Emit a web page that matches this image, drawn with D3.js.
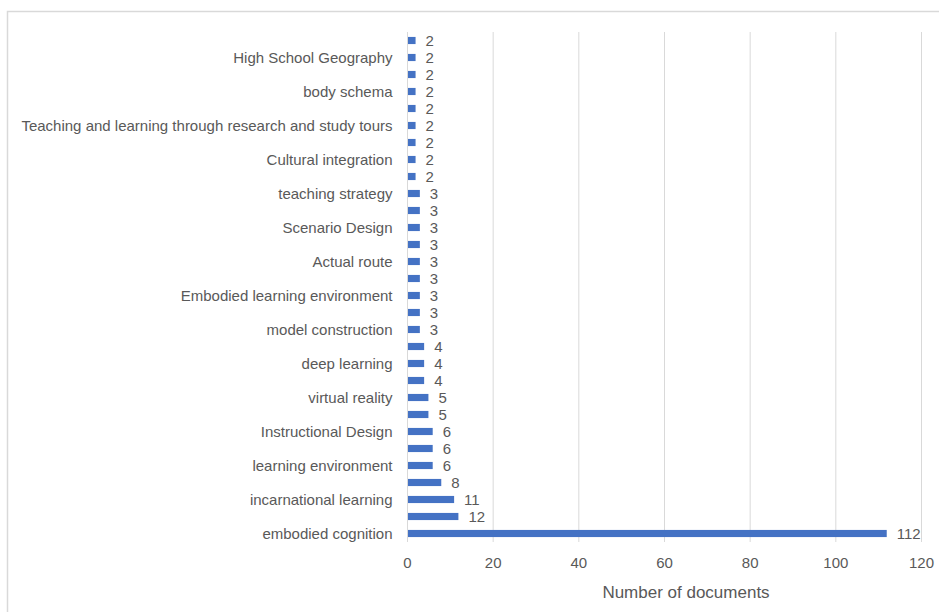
<!DOCTYPE html>
<html lang="en">
<head>
<meta charset="utf-8">
<title>Number of documents</title>
<script src="https://cdn.jsdelivr.net/npm/d3@7"></script>
<style>
  body { margin: 0; background: #fff; }
  text { font-family: "Liberation Sans", Arial, sans-serif; fill: #595959; }
</style>
</head>
<body>
<div id="chart"></div>
<script>

// Data (bottom category first, as Excel draws it). Empty names = labels Excel skipped.
var categories = [
  "embodied cognition", "", "incarnational learning", "", "learning environment", "",
  "Instructional Design", "", "virtual reality", "", "deep learning", "",
  "model construction", "", "Embodied learning environment", "", "Actual route", "",
  "Scenario Design", "", "teaching strategy", "", "Cultural integration", "",
  "Teaching and learning through research and study tours", "", "body schema", "",
  "High School Geography", ""
];
var counts = [112, 12, 11, 8, 6, 6, 6, 5, 5, 4, 4, 4, 3, 3, 3, 3, 3, 3, 3, 3, 3, 2, 2, 2, 2, 2, 2, 2, 2, 2];
var xTicks = [0, 20, 40, 60, 80, 100, 120];
var xTitle = "Number of documents";

/*********************************************************************/
// Canvas

var width = 939, height = 612;
var plotLeft = 407, plotRight = 921, plotTop = 32, plotBottom = 542;

var svg = d3.select("#chart")
  .append("svg")
  .attr("width", width)
  .attr("height", height);

// chart area border
svg.append("rect")
  .attr("x", 7.5)
  .attr("y", 11.5)
  .attr("width", 940)
  .attr("height", 610)
  .attr("fill", "none")
  .attr("stroke", "#d9d9d9")
  .attr("stroke-width", 1.5);

/*********************************************************************/
// Scales

var x = d3.scaleLinear().domain([0, 120]).range([plotLeft, plotRight]);

var y = d3.scaleBand()
  .domain(d3.range(categories.length))
  .range([plotBottom, plotTop])
  .paddingInner(0.58)
  .paddingOuter(0.29);

/*********************************************************************/
// Gridlines

svg.append("g")
  .selectAll("line")
  .data(xTicks.slice(1))
  .enter()
  .append("line")
  .attr("x1", function(d) { return x(d) + 0.5; })
  .attr("x2", function(d) { return x(d) + 0.5; })
  .attr("y1", plotTop)
  .attr("y2", plotBottom)
  .style("stroke", "#d9d9d9")
  .style("stroke-width", 1);

/*********************************************************************/
// Bars

svg.append("g")
  .selectAll("rect")
  .data(counts)
  .enter()
  .append("rect")
  .attr("x", x(0))
  .attr("y", function(d, i) { return y(i); })
  .attr("width", function(d) { return x(d) - x(0); })
  .attr("height", y.bandwidth())
  .attr("fill", "#4472c4");

// value labels
svg.append("g")
  .selectAll("text")
  .data(counts)
  .enter()
  .append("text")
  .attr("x", function(d) { return x(d) + 10; })
  .attr("y", function(d, i) { return y(i) + y.bandwidth() / 2; })
  .attr("dy", "0.36em")
  .style("font-size", "15px")
  .text(function(d) { return d; });

/*********************************************************************/
// Axes

var yAxis = svg.append("g")
  .attr("transform", "translate(" + (plotLeft + 0.5) + ",0)")
  .call(d3.axisLeft(y)
    .tickSize(0)
    .tickPadding(15)
    .tickFormat(function(i) { return categories[i]; }));

yAxis.select(".domain")
  .attr("d", "M0," + plotTop + "V" + plotBottom)
  .style("stroke", "#d9d9d9");
yAxis.selectAll("text")
  .style("font-size", "15px")
  .attr("dy", "0.36em");

var xAxis = svg.append("g")
  .attr("transform", "translate(0," + plotBottom + ")")
  .call(d3.axisBottom(x).tickValues(xTicks).tickSize(0).tickPadding(15));

xAxis.select(".domain").remove();
xAxis.selectAll("text")
  .style("font-size", "15px");

svg.append("text")
  .attr("x", 686)
  .attr("y", 598)
  .attr("text-anchor", "middle")
  .style("font-size", "17px")
  .text(xTitle);

</script>
</body>
</html>
